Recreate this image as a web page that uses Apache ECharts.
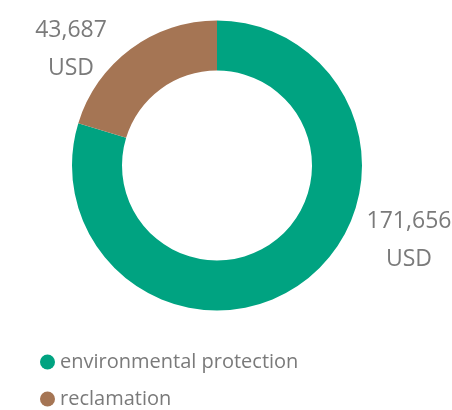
<!DOCTYPE html>
<html><head><meta charset="utf-8">
<script src="https://cdn.jsdelivr.net/npm/echarts@6/dist/echarts.min.js"></script>
<style>html,body{margin:0;padding:0;background:#fff}#c{width:452px;height:410px}</style>
</head><body><div id="c"></div>
<script>
var categories = ['environmental protection', 'reclamation'];
var values = [171656, 43687];
var unit = 'USD';
var colors = ['#00a381', '#a57554'];
var labelPos = [[409, 240], [71, 49]];

var chart = echarts.init(document.getElementById('c'), null, {renderer: 'canvas'});
var data = categories.map(function (c, i) {
  return {name: c, value: values[i], itemStyle: {color: colors[i]}};
});
chart.setOption({
  animation: false,
  legend: {
    orient: 'vertical',
    left: 40,
    top: 352,
    padding: 0,
    icon: 'circle',
    itemWidth: 15,
    itemHeight: 15,
    itemGap: 17,
    textStyle: {fontFamily: 'Open Sans', fontSize: 20, color: '#7a7a7a', lineHeight: 20},
    data: categories
  },
  series: [{
    type: 'pie',
    center: [217, 165.5],
    radius: [95, 145],
    startAngle: 90,
    clockwise: true,
    silent: true,
    label: {
      show: true,
      position: 'outside',
      fontFamily: 'Open Sans',
      fontSize: 23,
      lineHeight: 38,
      color: '#7a7a7a',
      align: 'center',
      overflow: 'none',
      formatter: function (p) {
        return p.value.toLocaleString('en-US') + '\n' + unit;
      }
    },
    labelLine: {show: false},
    labelLayout: function (p) {
      var pos = labelPos[p.dataIndex];
      return {x: pos[0], y: pos[1], align: 'center', verticalAlign: 'middle'};
    },
    data: data
  }]
});
</script></body></html>
